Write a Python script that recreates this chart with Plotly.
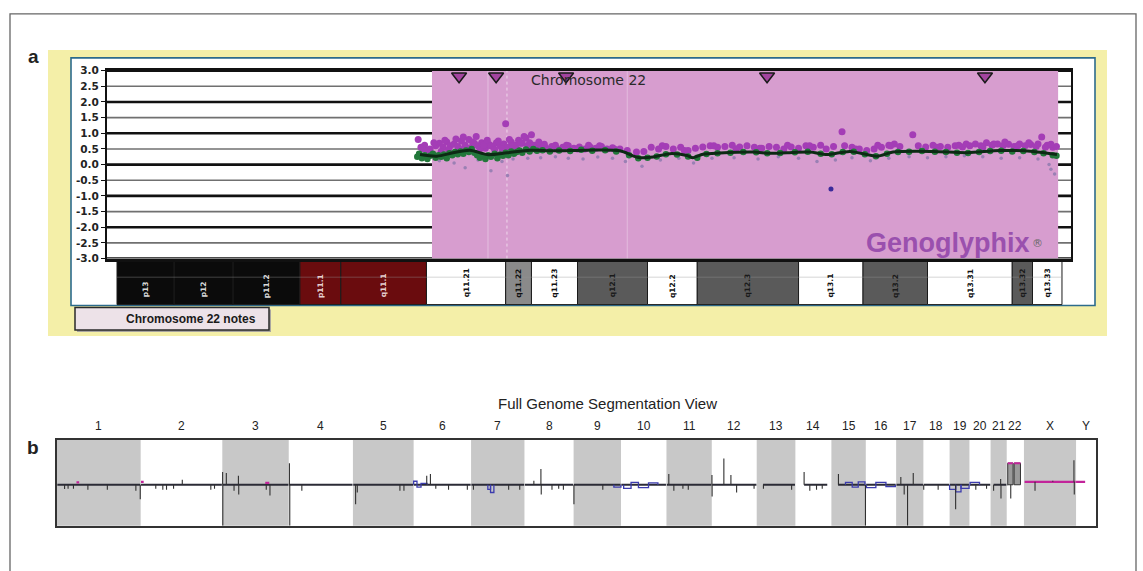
import plotly.graph_objects as go

W, H = 1143, 571


def P(x):
    return x / W


def Q(y):
    return 1 - y / H


# ====================== Panel a: chromosome 22 ======================
y_ticks = [3.0, 2.5, 2.0, 1.5, 1.0, 0.5, 0.0, -0.5, -1.0, -1.5, -2.0, -2.5, -3.0]
gain_region = [17.1, 51.09]  # Mb
marker_mb = [18.57, 20.58, 24.38, 35.29, 47.12]
marker_val = [2.82, 2.82, 2.82, 2.82, 2.82]

band_names = ["p13", "p12", "p11.2", "p11.1", "q11.1", "q11.21", "q11.22", "q11.23",
               "q12.1", "q12.2", "q12.3", "q13.1", "q13.2", "q13.31", "q13.32", "q13.33"]
band_start = [0.0, 3.1, 6.3, 9.93, 12.15, 16.8, 21.1, 22.5, 25.0, 28.8, 31.5, 37.0, 40.5, 44.0, 48.6, 49.7]
band_end = [3.1, 6.3, 9.93, 12.15, 16.8, 21.1, 22.5, 25.0, 28.8, 31.5, 37.0, 40.5, 44.0, 48.6, 49.7, 51.3]
band_stain = ["stalk", "stalk", "stalk", "acen", "acen", "gneg", "gpos50", "gneg",
              "gpos75", "gneg", "gpos75", "gneg", "gpos75", "gneg", "gpos75", "gneg"]
stain_fill = {"stalk": "#0b0b0b", "acen": "#6a0c0e", "gneg": "#ffffff",
              "gpos50": "#8a8a8a", "gpos75": "#5a5a5a"}
stain_text = {"stalk": "#d8d8d8", "acen": "#e6d0d0", "gneg": "#111111",
              "gpos50": "#111111", "gpos75": "#1a1a1a"}

# probe log2 ratios (purple), smoothed probes (green), low-weight probes (lavender)
purple_x = [16.35, 16.5, 16.7, 17.0, 17.3, 17.5, 17.7, 17.9, 18.1, 18.3, 18.5, 18.7, 18.9, 19.1,
            19.25, 19.4, 19.6, 19.8, 20.0, 20.2, 20.4, 20.6, 20.8, 21.0, 21.1, 21.2, 21.4, 21.6,
            21.8, 22.0, 22.2, 22.4, 22.6, 22.8, 23.0, 23.3, 23.6, 23.9, 24.2, 24.5, 24.8, 25.1,
            25.4, 25.7, 26.0, 26.3, 26.6, 26.9, 27.3, 27.7, 28.2, 28.6, 29.0, 29.4, 29.8, 30.2,
            30.6, 31.0, 31.4, 31.8, 32.2, 32.6, 33.0, 33.4, 33.8, 34.2, 34.6, 35.0, 35.4, 35.8,
            36.2, 36.6, 37.0, 37.4, 37.8, 38.2, 38.5, 38.9, 39.36, 39.5, 39.9, 40.3, 40.7, 41.1,
            41.5, 41.9, 42.2, 42.5, 43.2, 43.5, 43.9, 44.3, 44.7, 45.1, 45.5, 45.9, 46.3, 46.6,
            46.9, 47.2, 47.5, 47.8, 48.1, 48.4, 48.7, 49.0, 49.3, 49.6, 49.9, 50.2, 50.5, 50.8, 51.0,
            16.6, 16.9, 17.2, 17.6, 17.8, 18.0, 18.4, 18.6, 18.8, 19.0, 19.3, 19.5, 19.7, 19.9,
            20.1, 20.3, 20.5, 20.7, 20.9, 21.3, 21.5, 21.7, 21.9, 22.1, 22.3, 22.5, 22.7, 22.9,
            23.2, 23.8, 24.4, 25.0, 25.6, 26.2, 27.0, 29.6, 30.8, 32.4, 33.6, 34.9, 36.4, 37.6,
            40.1, 41.3, 42.0, 44.5, 45.7, 46.1, 47.0, 47.6, 48.2, 48.9, 49.5, 50.0, 50.4, 50.7]
purple_y = [0.80, 0.55, 0.62, 0.50, 0.60, 0.68, 0.55, 0.72, 0.60, 0.66, 0.58, 0.75, 0.62, 0.80,
            0.55, 0.68, 0.60, 0.70, 0.52, 0.64, 0.58, 0.70, 0.60, 0.66, 1.30, 0.55, 0.72, 0.62,
            0.78, 0.68, 0.85, 0.70, 0.62, 0.58, 0.55, 0.52, 0.58, 0.50, 0.55, 0.60, 0.52, 0.56,
            0.50, 0.55, 0.52, 0.58, 0.50, 0.54, 0.50, 0.45, 0.40, 0.42, 0.55, 0.50, 0.58, 0.50,
            0.55, 0.45, 0.52, 0.56, 0.60, 0.55, 0.58, 0.62, 0.56, 0.60, 0.55, 0.52, 0.58, 0.55,
            0.50, 0.56, 0.52, 0.60, 0.55, 0.62, 0.50, 0.58, 1.05, 0.60, 0.55, 0.50, 0.45, 0.50,
            0.55, 0.62, 0.66, 0.58, 0.95, 0.60, 0.56, 0.62, 0.58, 0.55, 0.60, 0.56, 0.60, 0.66,
            0.60, 0.70, 0.62, 0.66, 0.60, 0.65, 0.58, 0.66, 0.60, 0.64, 0.58, 0.88, 0.62, 0.55,
            0.58, 0.50,
            0.45, 0.70, 0.42, 0.78, 0.48, 0.82, 0.50, 0.88, 0.52, 0.72, 0.90, 0.50, 0.62, 0.78,
            0.60, 0.48, 0.75, 0.50, 0.80, 0.60, 0.50, 0.68, 0.90, 0.60, 0.95, 0.62, 0.72, 0.65,
            0.62, 0.62, 0.50, 0.62, 0.60, 0.50, 0.60, 0.45, 0.60, 0.50, 0.52, 0.62, 0.60, 0.50,
            0.62, 0.60, 0.55, 0.62, 0.66, 0.55, 0.66, 0.72, 0.60, 0.70, 0.66, 0.55, 0.65, 0.50]

green_x = [16.3, 16.4, 16.55, 16.7, 16.85, 17.0, 17.15, 17.3, 17.45, 17.6, 17.75, 17.9, 18.05,
           18.2, 18.35, 18.5, 18.65, 18.8, 18.95, 19.1, 19.25, 19.4, 19.55, 19.7, 19.85, 20.0,
           20.15, 20.3, 20.5, 20.65, 20.8, 20.95, 21.1, 21.25, 21.4, 21.55, 21.7, 21.85, 22.0,
           22.2, 22.4, 22.6, 22.8, 23.1, 23.5, 24.0, 24.6, 25.2, 25.8, 26.5, 27.1, 27.8, 28.3,
           28.8, 29.3, 29.8, 30.4, 31.0, 31.5, 32.0, 32.6, 33.3, 34.0, 34.7, 35.3, 36.0, 36.8,
           37.5, 38.2, 38.8, 39.4, 40.0, 40.6, 41.2, 41.8, 42.4, 43.0, 43.7, 44.4, 45.0, 45.6,
           46.2, 46.8, 47.4, 48.0, 48.6, 49.2, 49.8, 50.3, 50.8, 51.0]
green_y = [0.25, 0.35, 0.20, 0.30, 0.18, 0.28, 0.35, 0.22, 0.30, 0.25, 0.32, 0.20, 0.36,
           0.30, 0.40, 0.33, 0.42, 0.35, 0.45, 0.40, 0.50, 0.38, 0.30, 0.22, 0.28, 0.18,
           0.30, 0.25, 0.35, 0.20, 0.32, 0.28, 0.38, 0.30, 0.42, 0.35, 0.40, 0.45, 0.38,
           0.48, 0.42, 0.50, 0.44, 0.46, 0.42, 0.45, 0.43, 0.47, 0.44, 0.46, 0.42, 0.30, 0.20,
           0.22, 0.26, 0.33, 0.32, 0.26, 0.22, 0.34, 0.36, 0.38, 0.40, 0.39, 0.36, 0.37, 0.39,
           0.41, 0.35, 0.33, 0.40, 0.41, 0.33, 0.27, 0.35, 0.40, 0.41, 0.43, 0.41, 0.40, 0.38,
           0.37, 0.40, 0.43, 0.44, 0.42, 0.43, 0.40, 0.36, 0.30, 0.28]

lav_x = [17.5, 18.3, 18.9, 19.6, 20.3, 20.9, 21.2, 21.5, 22.3, 23.0, 23.8, 24.5, 25.3, 26.1,
         26.9, 27.6, 28.5, 29.5, 30.5, 31.3, 32.3, 33.5, 34.8, 35.9, 37.0, 38.0, 39.0, 39.9,
         40.9, 41.9, 43.0, 44.0, 45.0, 46.0, 47.0, 48.0, 49.0, 50.0, 50.6, 50.7, 50.9]
lav_y = [0.12, 0.05, -0.10, 0.15, -0.20, 0.10, -0.35, 0.18, 0.20, 0.22, 0.25, 0.20, 0.18, 0.24,
         0.20, 0.10, -0.05, 0.15, 0.20, 0.05, 0.20, 0.22, 0.18, 0.25, 0.20, 0.10, 0.15, 0.22,
         0.12, 0.20, 0.25, 0.22, 0.25, 0.28, 0.25, 0.20, 0.22, 0.18, 0.00, -0.15, -0.30]

smooth_x = [16.45, 17.37, 18.24, 19.16, 20.09, 21.17, 22.42, 23.67, 25.52, 27.31, 28.01, 28.39,
            29.1, 30.02, 30.94, 31.27, 31.81, 32.74, 34.53, 35.45, 36.37, 37.62, 38.55, 39.79,
            41.26, 42.13, 44.3, 46.15, 47.94, 49.73, 51.03]
smooth_y = [0.32, 0.27, 0.375, 0.46, 0.32, 0.375, 0.46, 0.44, 0.46, 0.44, 0.28, 0.22,
            0.24, 0.35, 0.29, 0.22, 0.33, 0.37, 0.40, 0.36, 0.38, 0.40, 0.32, 0.42,
            0.27, 0.40, 0.42, 0.38, 0.45, 0.42, 0.32]

outlier_x = [38.76]
outlier_y = [-0.78]

# ====================== Panel b: full genome ======================
chrom_names = ["1", "2", "3", "4", "5", "6", "7", "8", "9", "10", "11", "12", "13", "14",
               "15", "16", "17", "18", "19", "20", "21", "22", "X", "Y"]
chrom_len = [249.3, 243.2, 198.0, 191.2, 180.9, 171.1, 159.1, 146.4, 141.2, 135.5, 135.0,
             133.9, 115.2, 107.3, 102.5, 90.4, 81.2, 78.1, 59.1, 63.0, 48.1, 51.3, 155.3, 59.4]
line_start = [1, 1, 1, 1, 1, 1, 1, 1, 1, 1, 1, 1, 19, 26, 20, 1, 1, 1, 1, 1, 9, 2, 2, 0]
line_end = [248, 242, 197, 190, 180, 170, 158, 145, 140, 134, 134, 133, 114, 95, 101, 89,
            80, 77, 58, 62, 47, 3, 154, 27]
shaded = ["1", "3", "5", "7", "9", "11", "13", "15", "17", "19", "21", "X"]

spike_chrom = ["1", "1", "1", "1", "1", "1", "1",
               "2", "2", "2", "2", "2", "2", "2",
               "3", "3", "3", "3", "3", "3", "3", "3",
               "4", "4", "4",
               "5", "5", "5", "5",
               "6", "6", "6", "6", "6",
               "7", "7", "7",
               "8", "8", "8", "8", "8", "8",
               "9", "9",
               "11", "11", "11", "11",
               "12", "12", "12", "12", "12", "12",
               "13", "13",
               "14", "14", "14", "14",
               "15", "15",
               "17", "17", "17", "17",
               "18", "18",
               "19",
               "20", "20",
               "21", "21", "21",
               "22",
               "X", "X", "X", "X"]
spike_pos = [22.6, 33, 49, 92, 150, 235, 248,
             45, 66, 77, 98, 124, 209, 220,
             1, 1.5, 12, 35, 48, 49, 131, 142,
             2, 3, 39,
             8, 13, 140, 152,
             39, 50, 66, 104, 160,
             7, 112, 145,
             28, 49, 50, 82, 102, 116,
             1, 87,
             7, 22, 49, 65,
             0.5, 1, 36, 57, 74, 126,
             20, 104,
             26, 43, 63, 80,
             21, 101.5,
             14, 24, 34, 51,
             1, 44,
             18,
             19, 51,
             9, 30, 31,
             12,
             33, 86, 149, 150]
spike_val = [-0.18, -0.17, -0.17, -0.21, -0.21, -0.25, -0.62,
             -0.17, -0.21, -0.21, -0.17, 0.21, -0.21, -0.17,
             0.54, -1.75, 0.50, -0.25, 0.38, -0.42, -0.21, -0.46,
             0.92, -1.75, -0.25,
             -0.83, -0.33, -0.25, -0.25,
             0.38, 0.46, -0.17, -0.21, -0.21,
             -0.21, -0.21, -0.21,
             0.17, 0.67, -0.42, -0.21, -0.17, -0.21,
             -0.83, -0.21,
             0.46, -0.25, -0.17, -0.21,
             0.42, -0.50, 1.12, 0.42, -0.33, -0.17,
             -0.17, -0.21,
             0.54, -0.25, -0.21, -0.17,
             0.46, -1.75,
             0.33, -0.42, -1.75, 0.50,
             -0.21, -0.21,
             -1.04,
             -0.21, -0.17,
             -0.25, 0.25, -0.58,
             -0.58,
             -0.25, 0.17, 1.04, -0.42]

# small non-neutral segments (chrom, start, end, log2)
blue_chrom = ["6", "6", "6", "7", "7", "9", "10", "10", "10", "10", "15", "15", "15",
              "16", "16", "16", "19", "19", "19", "20"]
blue_start = [0, 10, 22, 50, 58, 120, 8, 30, 52, 82, 42, 62, 80, 2, 30, 60, 0, 18, 34, 2]
blue_end = [10, 22, 40, 58, 68, 141, 30, 52, 82, 110, 62, 80, 100, 30, 60, 88, 18, 34, 58, 30]
blue_val = [0.15, -0.10, 0.06, -0.20, -0.33, -0.10, -0.15, 0.10, -0.12, 0.08, 0.10, -0.10,
            0.12, -0.12, 0.10, -0.08, -0.20, -0.30, -0.15, 0.10]

pink_chrom = ["1", "2", "3", "X", "Y"]
pink_start = [58, 1, 128, 2, 0]
pink_end = [66, 9, 140, 154, 27]
pink_val = [0.10, 0.12, 0.08, 0.125, 0.125]

gain_bar_chrom = ["22", "22"]
gain_bar_start = [3, 22]
gain_bar_end = [19, 41]
gain_bar_val = [0.92, 0.92]

# ----------------------------------------------------------------------
offsets = {}
acc = 0.0
for n, L in zip(chrom_names, chrom_len):
    offsets[n] = acc
    acc += L
genome_len = acc
centers = [offsets[n] + L / 2 for n, L in zip(chrom_names, chrom_len)]

fig = go.Figure()

# ---- Panel a traces
fig.add_trace(go.Scatter(x=lav_x, y=lav_y, mode="markers", xaxis="x", yaxis="y",
                         marker=dict(size=3.5, color="#9a80b4"), hoverinfo="skip"))
fig.add_trace(go.Scatter(x=purple_x, y=purple_y, mode="markers", xaxis="x", yaxis="y",
                         marker=dict(size=7, color="#a43db6"), hoverinfo="skip"))
fig.add_trace(go.Scatter(x=green_x, y=green_y, mode="markers", xaxis="x", yaxis="y",
                         marker=dict(size=6.5, color="#22773a"), hoverinfo="skip"))
fig.add_trace(go.Scatter(x=smooth_x, y=smooth_y, mode="lines", xaxis="x", yaxis="y",
                         line=dict(color="#0c2a14", width=3, shape="spline", smoothing=0.8),
                         hoverinfo="skip"))
fig.add_trace(go.Scatter(x=outlier_x, y=outlier_y, mode="markers", xaxis="x", yaxis="y",
                         marker=dict(size=5, color="#3a2a9a"), hoverinfo="skip"))
fig.add_trace(go.Scatter(x=marker_mb, y=marker_val, mode="markers", xaxis="x", yaxis="y",
                         cliponaxis=False,
                         marker=dict(symbol="triangle-down", size=13, color="#a3449f",
                                     line=dict(color="#1a1a1a", width=1.5)),
                         hoverinfo="skip"))

# ---- Panel b traces
base_x, base_y = [], []
for n, s, e in zip(chrom_names, line_start, line_end):
    if n in ("X", "Y"):
        continue
    base_x += [offsets[n] + s, offsets[n] + e, None]
    base_y += [0, 0, None]
fig.add_trace(go.Scatter(x=base_x, y=base_y, mode="lines", xaxis="x2", yaxis="y2",
                         line=dict(color="#2b2b36", width=1.8), hoverinfo="skip"))

bx, by = [], []
for c, s, e, v in zip(blue_chrom, blue_start, blue_end, blue_val):
    bx += [offsets[c] + s, offsets[c] + s, offsets[c] + e, offsets[c] + e, None]
    by += [0, v, v, 0, None]
fig.add_trace(go.Scatter(x=bx, y=by, mode="lines", xaxis="x2", yaxis="y2",
                         line=dict(color="#3c3cae", width=1.3), hoverinfo="skip"))

mx, my = [], []
for c, s, e, v in zip(pink_chrom, pink_start, pink_end, pink_val):
    mx += [offsets[c] + s, offsets[c] + e, None]
    my += [v, v, None]
fig.add_trace(go.Scatter(x=mx, y=my, mode="lines", xaxis="x2", yaxis="y2",
                         line=dict(color="#c2249a", width=2.2), hoverinfo="skip"))

# chr22 gain boxes
fig.add_trace(go.Bar(x=[offsets[c] + (s + e) / 2 for c, s, e in zip(gain_bar_chrom, gain_bar_start, gain_bar_end)],
                     y=gain_bar_val,
                     width=[e - s for s, e in zip(gain_bar_start, gain_bar_end)],
                     xaxis="x2", yaxis="y2",
                     marker=dict(color="#9a9a9a", line=dict(color="#333333", width=1)),
                     hoverinfo="skip"))
gx, gy = [], []
for c, s, e, v in zip(gain_bar_chrom, gain_bar_start, gain_bar_end, gain_bar_val):
    gx += [offsets[c] + s, offsets[c] + e, None]
    gy += [v, v, None]
fig.add_trace(go.Scatter(x=gx, y=gy, mode="lines", xaxis="x2", yaxis="y2",
                         line=dict(color="#c2249a", width=2), hoverinfo="skip"))

sx, sy = [], []
for c, p, v in zip(spike_chrom, spike_pos, spike_val):
    sx += [offsets[c] + p, offsets[c] + p, None]
    sy += [0 if c != "X" else 0.125, v, None]
fig.add_trace(go.Scatter(x=sx, y=sy, mode="lines", xaxis="x2", yaxis="y2",
                         line=dict(color="#303030", width=1.1), hoverinfo="skip"))

# ---- shapes
shapes = []
shapes.append(dict(type="rect", xref="paper", yref="paper", x0=P(10), x1=P(1136), y0=Q(600), y1=Q(8),
                   line=dict(color="#666666", width=1.3), fillcolor="rgba(0,0,0,0)", layer="below"))
shapes.append(dict(type="rect", xref="paper", yref="paper", x0=P(48), x1=P(1107), y0=Q(337), y1=Q(45),
                   line=dict(width=0), fillcolor="#f4efa8", layer="below"))
shapes.append(dict(type="rect", xref="paper", yref="paper", x0=P(71), x1=P(1095), y0=Q(306), y1=Q(53),
                   line=dict(color="#2c6b8c", width=1.6), fillcolor="#ffffff", layer="below"))
for s, e, st in zip(band_start, band_end, band_stain):
    shapes.append(dict(type="rect", xref="x", yref="paper", x0=s, x1=e, y0=Q(305), y1=Q(260),
                       line=dict(color="#1a1a1a", width=1), fillcolor=stain_fill[st], layer="below"))
shapes.append(dict(type="line", xref="x", yref="paper", x0=band_start[0], x1=band_end[-1],
                   y0=Q(277), y1=Q(277), line=dict(color="rgba(150,150,150,0.5)", width=0.8),
                   layer="below"))
shapes.append(dict(type="rect", xref="paper", yref="paper", x0=P(77), x1=P(271), y0=Q(333), y1=Q(310),
                   line=dict(width=0), fillcolor="#a9a6a0", layer="below"))
shapes.append(dict(type="rect", xref="paper", yref="paper", x0=P(75), x1=P(269), y0=Q(331), y1=Q(308),
                   line=dict(color="#2a2a2a", width=1.5), fillcolor="#ede2e8", layer="below"))
# gain shading + grid (panel a)
shapes.append(dict(type="rect", xref="x", yref="y", x0=gain_region[0], x1=gain_region[1], y0=-3, y1=3,
                   line=dict(width=0), fillcolor="#d79dcf", layer="below"))
shapes.append(dict(type="line", xref="x", yref="y", x0=20.14, x1=20.14, y0=-3, y1=3,
                   line=dict(color="rgba(255,255,255,0.35)", width=1), layer="below"))
shapes.append(dict(type="line", xref="x", yref="y", x0=21.17, x1=21.17, y0=-3, y1=3,
                   line=dict(color="rgba(255,255,255,0.6)", width=1, dash="dot"), layer="below"))
shapes.append(dict(type="line", xref="x", yref="y", x0=27.7, x1=27.7, y0=-3, y1=3,
                   line=dict(color="rgba(255,255,255,0.3)", width=1), layer="below"))
for v in y_ticks:
    major = abs(v - round(v)) < 1e-9
    shapes.append(dict(type="line", xref="x domain", yref="y", x0=0, x1=1, y0=v, y1=v,
                       line=dict(color="#111111" if major else "#707070", width=2.6 if major else 1.6),
                       layer="below"))
# panel b shading
for n in shaded:
    L = chrom_len[chrom_names.index(n)]
    shapes.append(dict(type="rect", xref="x2", yref="y2 domain", x0=offsets[n], x1=offsets[n] + L,
                       y0=0, y1=1, line=dict(width=0), fillcolor="#c8c8c8", layer="below"))

# ---- annotations
ann = []


def note(text, x, y, size, color, family="Liberation Sans, Arial", xref="paper", **kw):
    d = dict(text=text, xref=xref, yref="paper", x=x, y=y, showarrow=False,
             xanchor="center", yanchor="middle",
             font=dict(family=family, size=size, color=color))
    d.update(kw)
    ann.append(d)


note("<b>a</b>", P(33), Q(52), 19, "#222")
note("<b>b</b>", P(33), Q(451), 19, "#222")
note("Chromosome 22", 25.6, Q(76), 14, "#2a2a2a", family="DejaVu Sans, Verdana", xref="x")
note("<b>Genoglyphix</b>", P(948), Q(242), 27, "#9a50ae")
note("®", P(1037), Q(243), 11, "#6a6a6a", family="DejaVu Sans")
for name, s, e, st in zip(band_names, band_start, band_end, band_stain):
    note("<b>" + name + "</b>", (s + e) / 2, Q(300), 7.5, stain_text[st], family="DejaVu Sans",
         xref="x", yanchor="bottom", textangle=-90)
note("<b>Chromosome 22 notes</b>", P(191), Q(320), 12, "#1a1a1a")
note("Full Genome Segmentation View", P(607), Q(406), 15, "#222")
for n, c in zip(chrom_names, centers):
    note(n, c, Q(429), 12, "#222", xref="x2")

fig.update_layout(
    width=W, height=H, margin=dict(l=0, r=0, t=0, b=0),
    paper_bgcolor="white", plot_bgcolor="white", showlegend=False,
    barmode="overlay",
    shapes=shapes, annotations=ann,
    xaxis=dict(domain=[P(107), P(1071)], range=[-0.543, 51.79], anchor="y",
               showgrid=False, zeroline=False, showticklabels=False, ticks="",
               showline=True, mirror=True, linecolor="#111", linewidth=2.5),
    yaxis=dict(domain=[Q(258), Q(66)], range=[-3, 3], anchor="x",
               tickvals=y_ticks, ticktext=["%.1f" % v for v in y_ticks],
               showgrid=False, zeroline=False, ticks="outside", ticklen=4, tickcolor="#111",
               tickfont=dict(family="DejaVu Sans", size=10.5, color="#222", weight="bold"),
               showline=True, mirror=True, linecolor="#111", linewidth=2),
    xaxis2=dict(domain=[P(57), P(1096)], range=[0, genome_len], anchor="y2",
                showgrid=False, zeroline=False, showticklabels=False, ticks="",
                showline=True, mirror=True, linecolor="#333", linewidth=1.5),
    yaxis2=dict(domain=[Q(531), Q(443)], range=[-1.75, 1.92], anchor="x2",
                showgrid=False, zeroline=False, showticklabels=False, ticks="",
                showline=True, mirror=True, linecolor="#333", linewidth=1.5),
)

fig.write_html("out.html", config={"displayModeBar": False},
               post_script="document.body.style.margin='0';document.body.style.overflow='hidden';")
